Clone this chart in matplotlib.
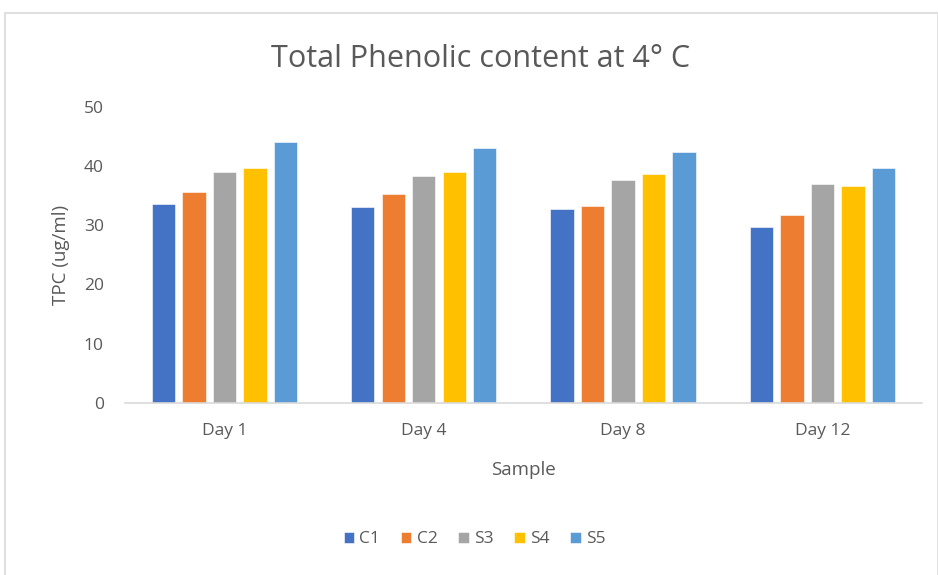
import matplotlib.pyplot as plt
import numpy as np
from matplotlib.patches import Rectangle

days = ['Day 1', 'Day 4', 'Day 8', 'Day 12']
series = ['C1', 'C2', 'S3', 'S4', 'S5']
c1 = [33.6, 33.0, 32.7, 29.7]
c2 = [35.6, 35.3, 33.3, 31.7]
s3 = [39.0, 38.3, 37.6, 36.9]
s4 = [39.6, 39.0, 38.6, 36.6]
s5 = [44.0, 43.0, 42.3, 39.6]
colors = ['#4472C4', '#ED7D31', '#A5A5A5', '#FFC000', '#5B9BD5']

plt.rcParams['font.family'] = ['Open Sans', 'DejaVu Sans']
text_col = '#595959'

fig = plt.figure(figsize=(9.38, 5.75), dpi=100)
ax = fig.add_axes([0.133, 0.299, 0.850, 0.5156])

# light frame round the whole chart, like the Excel chart area
fig.patches.append(Rectangle((0.005, -0.01), 0.995, 0.988, transform=fig.transFigure,
                             fill=False, edgecolor='#d9d9d9', linewidth=1.2))

x = np.arange(len(days))
step = 0.153
for i, (name, vals) in enumerate(zip(series, [c1, c2, s3, s4, s5])):
    ax.bar(x + (i - 2) * step, vals, width=0.117, color=colors[i], label=name,
           edgecolor='white', linewidth=0.4)

ax.set_xlim(-0.5, len(days) - 0.5)
ax.set_ylim(0, 50)
ax.set_yticks(range(0, 51, 10))
ax.set_xticks(x)
ax.set_xticklabels(days)
ax.tick_params(length=0, labelsize=12.5, colors=text_col)
ax.tick_params(axis='x', pad=14)
ax.tick_params(axis='y', pad=15)
for s in ['top', 'right', 'left']:
    ax.spines[s].set_visible(False)
ax.spines['bottom'].set_color('#d9d9d9')
ax.spines['bottom'].set_linewidth(1.2)

ax.set_xlabel('Sample', fontsize=13.5, color=text_col, labelpad=16)
ax.set_ylabel('TPC (ug/ml)', fontsize=13.5, color=text_col, labelpad=10)
fig.text(0.512, 0.897, 'Total Phenolic content at 4° C', ha='center', va='center',
         fontsize=22, color=text_col)

fig.legend(loc='center', bbox_to_anchor=(0.506, 0.062), ncol=5, frameon=False,
           fontsize=12.5, labelcolor=text_col, handlelength=0.6, handleheight=0.6,
           handletextpad=0.3, columnspacing=1.2)

fig.savefig('out.png', dpi=100)
